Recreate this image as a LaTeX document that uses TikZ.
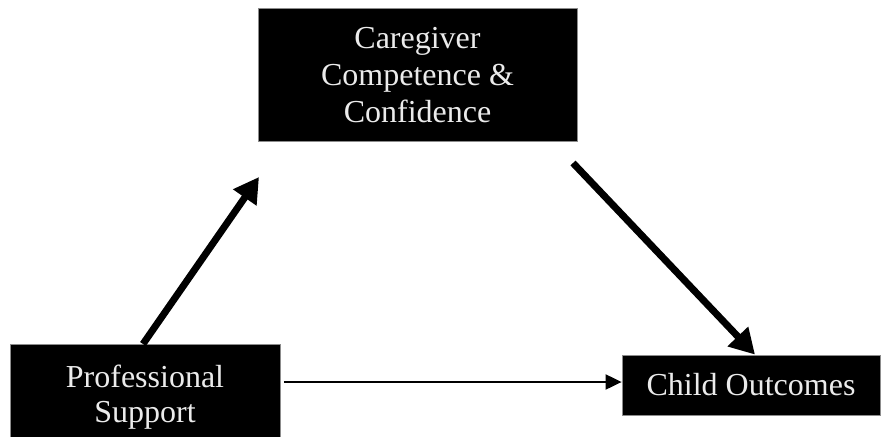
\documentclass[tikz,border=0pt]{standalone}
\usepackage{fontspec}
\setmainfont{Liberation Serif}
\usetikzlibrary{arrows.meta}
\begin{document}
\begin{tikzpicture}[x=1pt,y=-1pt,
  box/.style={fill=black,draw=black!45,line width=0.8pt,inner sep=0pt,
    text=white!92!black,align=center,
    font=\fontsize{32}{37}\selectfont},
  thick arrow/.style={line width=7pt,-{Triangle[length=25pt,width=27pt]}},
  thin arrow/.style={line width=2pt,-{Triangle[length=16pt,width=15pt]}}]
\useasboundingbox (0,0) rectangle (882,436);
\node[box,minimum width=319pt,minimum height=133pt] (care) at (417.5,75)
  {Caregiver\\Competence \&\\Confidence};
\node[box,minimum width=270pt,minimum height=93pt,anchor=north west] (pro) at (10,344) {};
\node[font=\fontsize{32}{35}\selectfont,text=white!92!black,align=center] (protext) at (145,397)
  {Professional\\Support};
\node[box,minimum width=258pt,minimum height=60pt] (child) at (751,385) {Child Outcomes};
\coordinate (a1s) at (143,344);
\coordinate (a1e) at (259,177);
\coordinate (a2s) at (573,163);
\draw[thick arrow] (a1s) -- (a1e);
\draw[thick arrow] (a2s) -- (child.north -| 755,0);
\draw[thin arrow] (pro.east |- 0,382) ++(3,0) -- (child.west |- 0,382);
\end{tikzpicture}
\end{document}
